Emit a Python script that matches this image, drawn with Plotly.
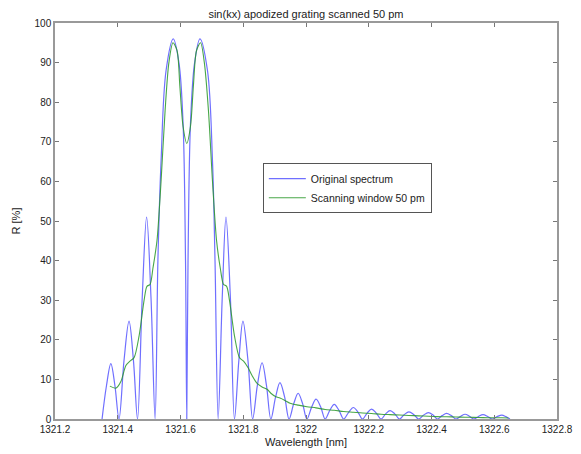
import plotly.graph_objects as go

# Original spectrum (blue): wavelength [nm] and reflectance [%]
orig_wl = [1321.350, 1321.364, 1321.378, 1321.391, 1321.404, 1321.420, 1321.436, 1321.450,
           1321.463, 1321.478, 1321.492, 1321.506, 1321.519,
           1321.528, 1321.538, 1321.554, 1321.577, 1321.595, 1321.608, 1321.616,
           1321.620, 1321.624, 1321.632, 1321.645, 1321.662, 1321.686, 1321.702,
           1321.710, 1321.720, 1321.733, 1321.745, 1321.759, 1321.772, 1321.786, 1321.799,
           1321.815, 1321.830, 1321.845, 1321.860, 1321.874, 1321.888, 1321.903, 1321.917,
           1321.932, 1321.946, 1321.961, 1321.975, 1321.989, 1322.003, 1322.018, 1322.032,
           1322.047, 1322.061, 1322.076, 1322.090, 1322.105, 1322.120, 1322.136, 1322.151,
           1322.166, 1322.180, 1322.195, 1322.209, 1322.224, 1322.239, 1322.254, 1322.268,
           1322.283, 1322.298, 1322.313, 1322.328, 1322.344, 1322.359, 1322.375, 1322.390,
           1322.405, 1322.419, 1322.434, 1322.448, 1322.463, 1322.478, 1322.493, 1322.507,
           1322.521, 1322.535, 1322.550, 1322.564, 1322.579, 1322.593, 1322.609, 1322.624,
           1322.637, 1322.650]
orig_r = [0, 8.4, 14, 8.4, 0, 14.8, 24.7, 14.8,
          0, 30.6, 51, 30.6, 0,
          40, 65, 88, 96, 90, 75, 40,
          0, 40, 75, 90, 96, 88, 65,
          40, 0, 30.6, 51, 30.6, 0, 14.8, 24.7,
          14.8, 0, 8.5, 14.2, 8.5, 0, 5.5, 9.2,
          5.5, 0, 3.9, 6.5, 3.9, 0, 3.0, 5.0,
          3.0, 0, 2.2, 3.7, 2.2, 0, 1.7, 2.9,
          1.7, 0, 1.5, 2.5, 1.5, 0, 1.3, 2.1,
          1.3, 0, 1.1, 1.8, 1.1, 0, 1.0, 1.6,
          1.0, 0, 0.85, 1.4, 0.85, 0, 0.7, 1.2,
          0.7, 0, 0.65, 1.1, 0.65, 0, 0.6, 1.0,
          0.6, 0]

# Scanned spectrum (green), 50 pm window
scan_wl = [1321.375, 1321.394, 1321.410, 1321.426, 1321.439, 1321.452, 1321.468,
           1321.484, 1321.493, 1321.503, 1321.512, 1321.525, 1321.538, 1321.551,
           1321.563, 1321.576, 1321.589, 1321.598, 1321.608, 1321.620, 1321.632,
           1321.641, 1321.651, 1321.664, 1321.676, 1321.689, 1321.702, 1321.715,
           1321.727, 1321.737, 1321.747, 1321.756, 1321.772, 1321.788, 1321.801,
           1321.815, 1321.828, 1321.844, 1321.860, 1321.876, 1321.888, 1321.904,
           1321.917, 1321.933, 1321.949, 1321.975, 1322.003, 1322.032, 1322.061,
           1322.090, 1322.120, 1322.151, 1322.180, 1322.209, 1322.239, 1322.268,
           1322.298, 1322.328, 1322.359, 1322.390, 1322.419, 1322.448, 1322.478,
           1322.507, 1322.535, 1322.564, 1322.593, 1322.624, 1322.645]
scan_r = [8.3, 7.8, 9.5, 13.5, 14.6, 15.5, 21,
          30, 33.5, 34, 38, 45, 60, 78,
          90, 95, 93, 84, 74, 69.6, 74,
          84, 93, 95, 90, 78, 60, 45,
          38, 34, 33.5, 30, 21, 15.5, 14.6,
          13, 11, 9, 8.1, 7.5, 6.5, 5.6,
          5.3, 4.7, 4.0, 3.5, 3.1, 2.8, 2.4,
          2.2, 1.9, 1.7, 1.5, 1.4, 1.2, 1.1,
          1.0, 0.9, 0.8, 0.7, 0.6, 0.55, 0.5,
          0.45, 0.4, 0.35, 0.3, 0.3, 0.25]

x_ticks = [1321.2, 1321.4, 1321.6, 1321.8, 1322.0, 1322.2, 1322.4, 1322.6, 1322.8]
x_tick_text = ["1321.2", "1321.4", "1321.6", "1321.8", "1322", "1322.2", "1322.4", "1322.6", "1322.8"]
y_ticks = [0, 10, 20, 30, 40, 50, 60, 70, 80, 90, 100]

fig = go.Figure()
fig.add_trace(go.Scatter(x=orig_wl, y=orig_r, mode="lines", name="Original spectrum",
                         line=dict(color="rgba(50,50,255,0.7)", width=1.2, shape="spline", smoothing=1.0)))
fig.add_trace(go.Scatter(x=scan_wl, y=scan_r, mode="lines", name="Scanning window 50 pm",
                         line=dict(color="rgba(40,150,40,0.85)", width=1.1, shape="spline", smoothing=0.8)))

font_family = "Liberation Sans, Arial, sans-serif"
# page body adds an 8 px offset; figure is sized/margined to compensate
fig.update_layout(
    width=573, height=446,
    margin=dict(l=47, r=24, t=15, b=35),
    paper_bgcolor="white", plot_bgcolor="white",
    font=dict(family=font_family, size=10, color="#222"),
    title=dict(text="sin(kx) apodized grating scanned 50 pm", x=0.52, xanchor="center",
               yref="container", y=0.986, yanchor="middle", font=dict(size=11, color="#222"),
               pad=dict(t=0, b=0)),
    showlegend=True,
    legend=dict(x=0.414, y=0.646, xanchor="left", yanchor="top",
                bgcolor="white", bordercolor="#555", borderwidth=1,
                font=dict(size=10.5, color="#222"), tracegroupgap=0,
                itemwidth=37),
    xaxis=dict(range=[1321.2, 1322.8], tickvals=x_ticks, ticktext=x_tick_text,
               automargin=False,
               showgrid=False, zeroline=False, showline=True, linecolor="#999", linewidth=1.5,
               mirror="ticks", ticks="inside", ticklen=4, tickcolor="#777",
               title=dict(text="Wavelength [nm]", standoff=5, font=dict(size=11))),
    yaxis=dict(range=[0, 100], tickvals=y_ticks,
               automargin=False,
               showgrid=False, zeroline=False, showline=True, linecolor="#999", linewidth=1.5,
               mirror="ticks", ticks="inside", ticklen=4, tickcolor="#777",
               title=dict(text="R [%]", standoff=12, font=dict(size=11))),
)

fig.write_html("out.html")
